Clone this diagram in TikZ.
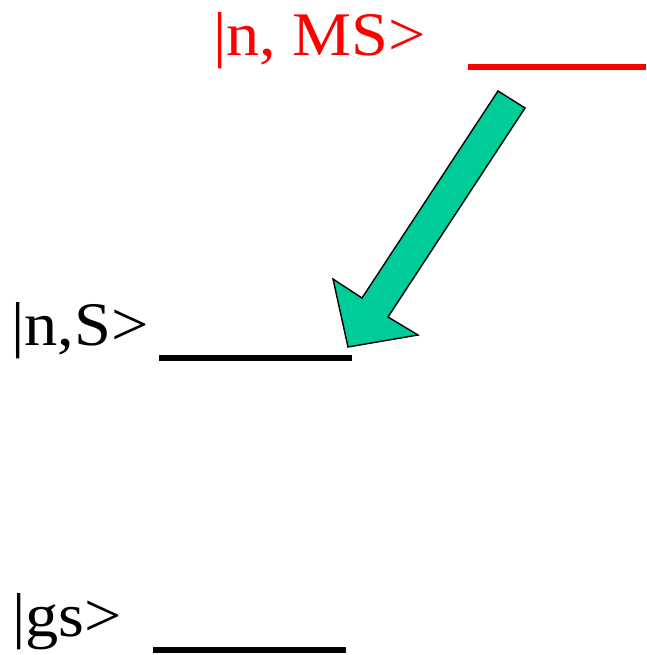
\documentclass[tikz,border=0pt]{standalone}
\usepackage{fontspec}
\setmainfont{Liberation Serif}
\definecolor{decaygreen}{RGB}{0,204,153}

\begin{document}
\begin{tikzpicture}[x=1pt,y=-1pt,
	every node/.style={font=\fontsize{62}{62}\selectfont, inner sep=0pt, anchor=base west, xscale=1.07},
	level/.style={line width=6.5pt}]
	\useasboundingbox (0,0) rectangle (646,655);
	% levels
	\node[red] (ms) at (213,56) {|n, MS>};
	\node (s) at (11,345) {|n,S>};
	\node (gs) at (12,636) {|gs>};
	\draw[level, red] (468,67) coordinate (msL) -- (646,67) coordinate (msR);
	\draw[level] (159,358) coordinate (sL) -- (352,358) coordinate (sR);
	\draw[level] (153,650) coordinate (gsL) -- (346,650) coordinate (gsR);
	% decay arrow
	\draw[fill=decaygreen, line width=1.4pt, line join=miter]
		(498,91) -- (525,108) -- (388,317) -- (418,335) -- (348,347)
		-- (333,279) -- (362,298) -- cycle;
\end{tikzpicture}
\end{document}
